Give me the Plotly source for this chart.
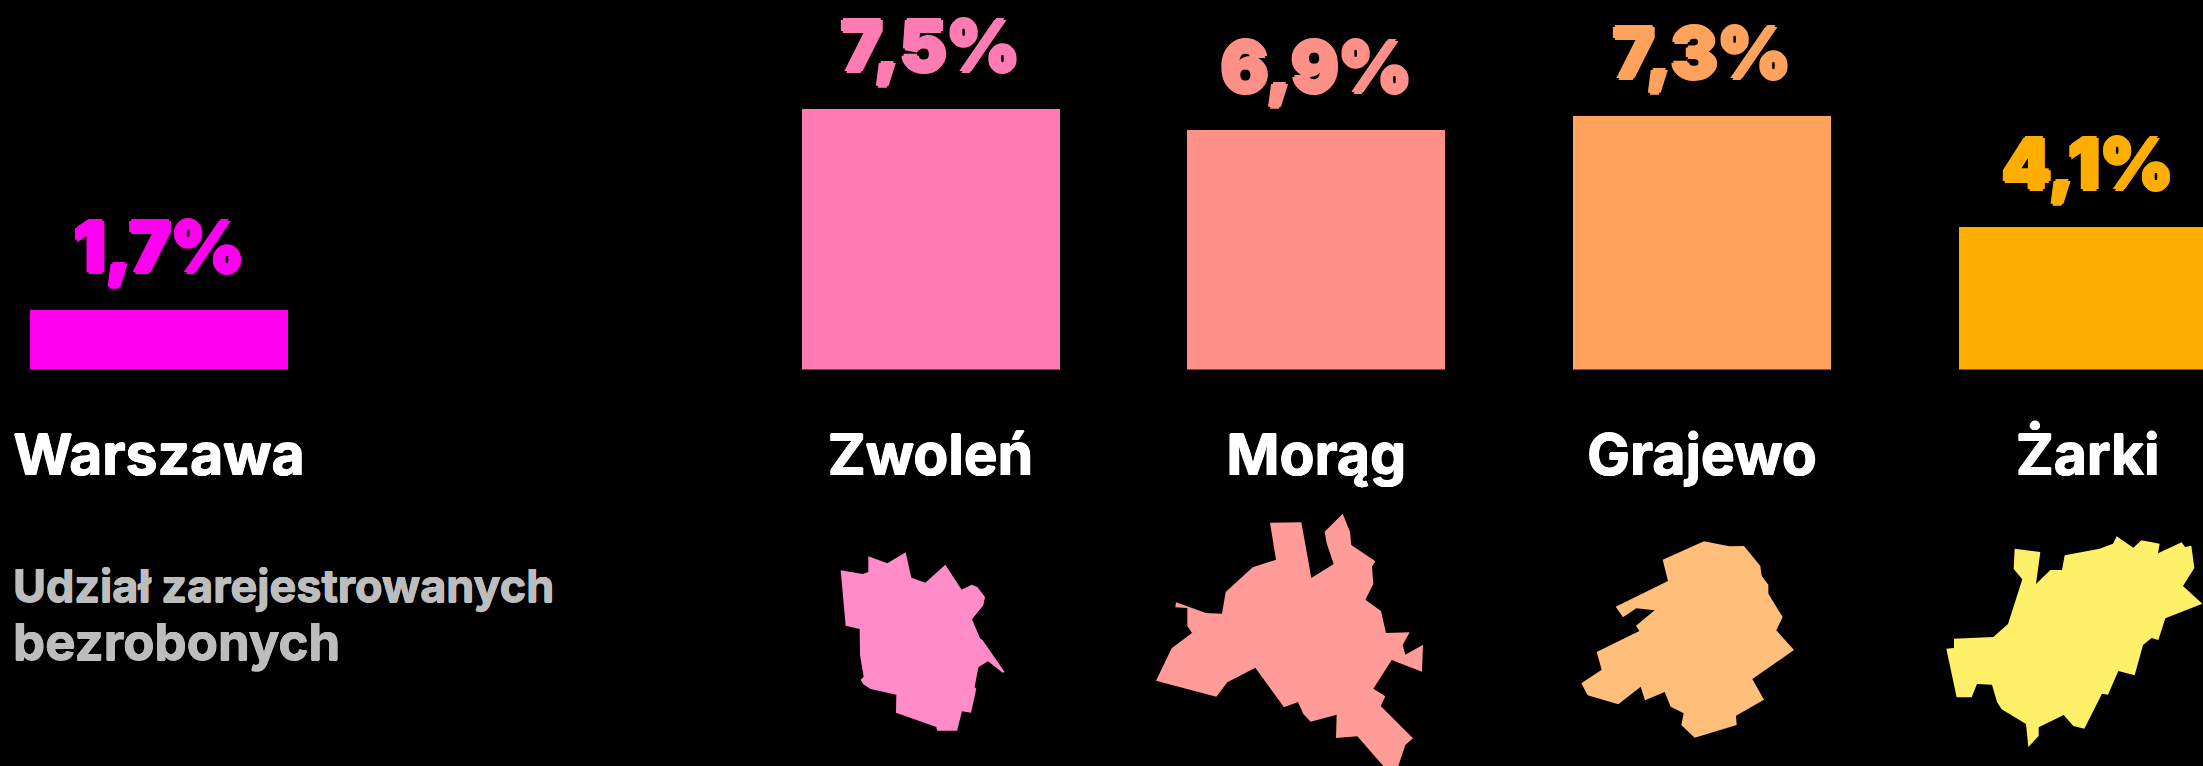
import plotly.graph_objects as go

W, H = 2203, 766

cities = ["Warszawa", " ", "Zwoleń", "Morąg", "Grajewo", "Żarki"]
values = [1.7, None, 7.5, 6.9, 7.3, 4.1]
labels = ["1,7%", "", "7,5%", "6,9%", "7,3%", "4,1%"]
bar_colors = ["#ff00ee", "#000000", "#ff7bb3", "#ff9088", "#ffa25c", "#ffae00"]

title_line1 = "Udział zarejestrowanych"
title_line2 = "bezrobonych"

# Municipality outlines (local units, 3 units per pixel)
zwolen_x = [182,248,265,265,322,377,394,436,496,545,575,592,615,610,576,600,608,674,668,624,595,584,589,573,546,531,471,469,348,349,272,250,242,251,240,239,197]
zwolen_y = [241,252,246,199,220,187,263,278,224,299,284,291,321,346,388,445,451,546,548,514,532,592,596,668,664,722,722,711,668,614,597,583,569,560,495,417,407]
morag_x = [420,514,544,611,590,584,638,660,664,736,726,730,706,753,768,839,818,826,879,876,785,730,766,752,849,826,805,760,682,618,620,542,520,504,462,376,292,259,78,125,186,172,172,136,138,228,276,287,368,438]
morag_y = [98,97,264,222,160,125,71,125,165,214,230,282,329,363,429,427,465,494,464,545,510,596,619,648,745,765,828,828,739,744,674,695,672,636,652,533,577,620,572,475,429,408,354,352,337,369,371,306,232,209]
grajewo_x = [338,462,538,582,631,635,655,655,698,679,732,607,642,558,560,434,394,401,362,344,285,272,205,113,94,155,140,268,258,314,259,219,197,354]
grajewo_y = [149,94,109,108,168,197,224,251,321,361,420,507,569,617,645,683,645,610,590,546,571,530,583,556,520,479,426,363,347,301,295,322,290,213]
zarki_x = [275,352,339,382,417,425,530,570,581,631,655,710,705,776,786,805,814,780,838,727,706,686,660,635,586,555,537,484,451,422,347,347,316,309,236,222,207,162,146,101,70,93,93,211,255,298,272]
zarki_y = [116,126,222,180,180,136,116,101,79,113,91,101,130,97,111,107,174,228,281,325,390,384,405,496,483,554,551,656,648,615,652,678,711,642,598,576,524,522,562,562,416,414,386,381,342,208,177]

outlines = [
    (zwolen_x, zwolen_y, 780, 490, "#ff8cc8"),
    (morag_x, morag_y, 1130, 490, "#ff9b99"),
    (grajewo_x, grajewo_y, 1550, 510, "#ffbe7a"),
    (zarki_x, zarki_y, 1923, 510, "#fff06a"),
]

BAR_BOTTOM = 369.5
PX_PER_UNIT = 34.73
SLOT = 385.75
FIRST_CENTER = 159


def thicken(color, r):
    return f"{r}px 0 0 {color}, -{r}px 0 0 {color}, 0 {r}px 0 {color}, 0 -{r}px 0 {color}"


fig = go.Figure()
fig.add_trace(go.Bar(
    x=cities, y=values, marker=dict(color=bar_colors, line=dict(width=0)),
    width=258 / SLOT, hoverinfo="skip", showlegend=False, xaxis="x", yaxis="y",
))
for ox, oy, x0, y0, col in outlines:
    fig.add_trace(go.Scatter(
        x=[x0 + v / 3 for v in ox], y=[y0 + v / 3 for v in oy],
        mode="lines", fill="toself", fillcolor=col, line=dict(width=0, color=col),
        hoverinfo="skip", showlegend=False, xaxis="x2", yaxis="y2",
    ))

annotations = []
for c, v, t, col in zip(cities, values, labels, bar_colors):
    if v is None:
        continue
    annotations.append(dict(
        x=c, y=v, xref="x", yref="y", text=t, showarrow=False,
        xanchor="center", yanchor="bottom", yshift=19,
        font=dict(family="Inter", size=70, weight=900, color=col, shadow=thicken(col, 2)),
    ))
annotations += [
    dict(x=11, y=602.7, xref="x2", yref="y2", text=title_line1, showarrow=False,
         xanchor="left", yanchor="bottom", yshift=-12,
         font=dict(family="Inter", size=45, weight=700, color="#bdbdbd", shadow=thicken("#bdbdbd", 0.5))),
    dict(x=11, y=662, xref="x2", yref="y2", text=title_line2, showarrow=False,
         xanchor="left", yanchor="bottom", yshift=-12,
         font=dict(family="Inter", size=51, weight=700, color="#bdbdbd", shadow=thicken("#bdbdbd", 0.5))),
]

fig.update_layout(
    width=W, height=H, margin=dict(l=0, r=0, t=0, b=0), autosize=False,
    paper_bgcolor="#000000", plot_bgcolor="rgba(0,0,0,0)", bargap=0,
    xaxis=dict(type="category", categoryorder="array", categoryarray=cities,
               range=[-FIRST_CENTER / SLOT, (W - FIRST_CENTER) / SLOT],
               domain=[0, 1], anchor="y", showgrid=False, zeroline=False, showline=False,
               ticks="", ticklabelstandoff=47, tickangle=0,
               tickfont=dict(family="Inter", size=57, weight=700, color="#ffffff",
                             shadow=thicken("#ffffff", 0.6))),
    yaxis=dict(range=[0, BAR_BOTTOM / PX_PER_UNIT], domain=[1 - BAR_BOTTOM / H, 1],
               anchor="x", visible=False),
    xaxis2=dict(range=[0, W], domain=[0, 1], anchor="y2", visible=False, overlaying="x"),
    yaxis2=dict(range=[H, 0], domain=[0, 1], anchor="x2", visible=False),
    annotations=annotations,
)
fig.write_html("out.html", config=dict(displayModeBar=False),
               post_script="document.body.style.margin='0';document.body.style.background='#000';")
